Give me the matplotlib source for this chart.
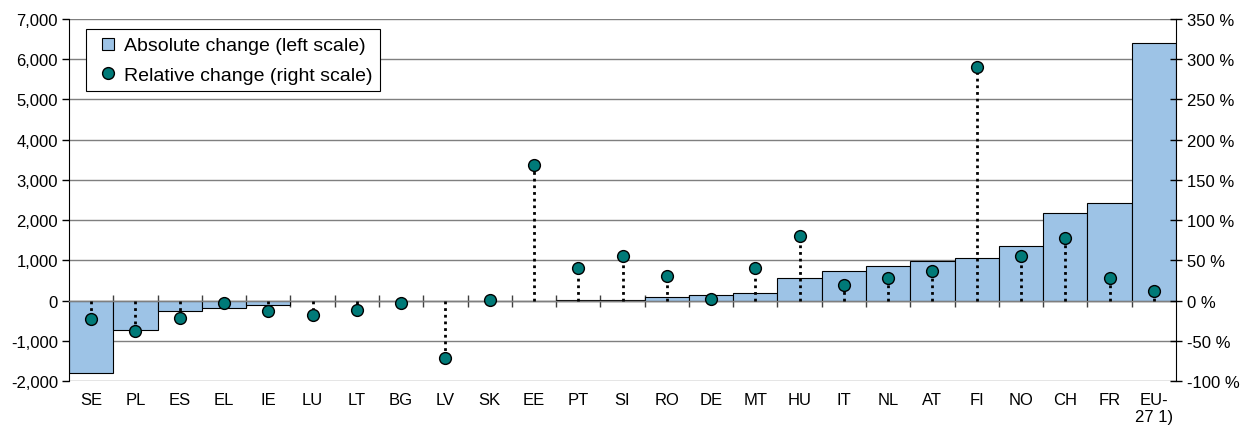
import matplotlib
matplotlib.use("Agg")
import matplotlib.pyplot as plt
from matplotlib.lines import Line2D
from matplotlib.ticker import FuncFormatter, FixedLocator
import numpy as np

plt.rcParams['font.family'] = ['Liberation Sans', 'DejaVu Sans']

categories = ["SE", "PL", "ES", "EL", "IE", "LU", "LT", "BG", "LV", "SK", "EE", "PT", "SI",
              "RO", "DE", "MT", "HU", "IT", "NL", "AT", "FI", "NO", "CH", "FR", "EU-\n27 1)"]
absolute_change = [-1800, -740, -270, -190, -120, 0, 0, 0, 0, 0, 0, 20, 20,
                   80, 145, 180, 550, 730, 850, 990, 1065, 1355, 2170, 2430, 6410]
relative_change = [-23, -38, -22, -3, -13, -18, -12, -3, -71, 1, 168, 40, 56,
                   30, 2, 41, 80, 19, 28, 37, 290, 56, 78, 28, 12]
left_ticks = list(range(-2000, 7001, 1000))
right_ticks = list(range(-100, 351, 50))

bar_color = '#9dc3e6'
dot_color = '#007a78'
grid_color = '#7f7f7f'
fs = 12

fig = plt.figure(figsize=(12.46, 4.35), dpi=100)
ax = fig.add_axes([69/1246, 1-382/435, (1176-69)/1246, (382-20)/435])
x = np.arange(len(categories))

ax.bar(x, absolute_change, width=1.0, color=bar_color, edgecolor='black', linewidth=0.8, zorder=2)
ax.set_xlim(-0.5, len(categories) - 0.5)
ax.set_ylim(-2000, 7000)
ax.yaxis.set_major_locator(FixedLocator(left_ticks))
ax.yaxis.set_major_formatter(FuncFormatter(lambda v, p: f"{int(v):,}"))
ax.yaxis.grid(True, color=grid_color, linewidth=1.0, zorder=0)
ax.set_axisbelow(True)
ax.tick_params(axis='y', direction='out', length=5, width=1, color='black', labelsize=fs, pad=3)

# x axis at zero
ax.spines['bottom'].set_position(('data', 0))
ax.spines['bottom'].set_color(grid_color)
ax.spines['bottom'].set_linewidth(1.0)
ax.spines['top'].set_visible(False)
ax.spines['right'].set_visible(False)
ax.spines['left'].set_color('black')
ax.xaxis.set_major_locator(FixedLocator(np.arange(0.5, len(categories) - 1, 1.0)))
ax.tick_params(axis='x', direction='inout', length=9, width=1, color='#404040', labelbottom=False)

for i, lab in enumerate(categories):
    ax.text(i, -0.03, lab, transform=ax.get_xaxis_transform(), ha='center', va='top',
            fontsize=fs, multialignment='center', linespacing=1.2)

ax2 = ax.twinx()
ax2.set_ylim(-100, 350)
ax2.yaxis.set_major_locator(FixedLocator(right_ticks))
ax2.yaxis.set_major_formatter(FuncFormatter(lambda v, p: f"{int(v)} %"))
ax2.tick_params(axis='y', direction='inout', length=8, width=1, color='black', labelsize=fs, pad=4)
for s in ['top', 'left', 'bottom']:
    ax2.spines[s].set_visible(False)
ax2.spines['right'].set_color('black')

ax2.vlines(x, 0, relative_change, colors='black', linestyles=(0, (1, 1.4)), linewidth=2.0, zorder=3)
ax2.plot(x, relative_change, linestyle='none', marker='o', markersize=8.5,
         markerfacecolor=dot_color, markeredgecolor='black', markeredgewidth=1.0, zorder=4)

handles = [
    Line2D([], [], linestyle='none', marker='s', markersize=8, markerfacecolor=bar_color,
           markeredgecolor='black', markeredgewidth=0.8),
    Line2D([], [], linestyle='none', marker='o', markersize=8.5, markerfacecolor=dot_color,
           markeredgecolor='black', markeredgewidth=1.0),
]
leg = ax2.legend(handles, ["Absolute change (left scale)", "Relative change (right scale)"],
                 loc='upper left', bbox_to_anchor=(17/1107, 1 - 10/362), borderaxespad=0,
                 fontsize=14, frameon=True, fancybox=False, handlelength=1.45,
                 handletextpad=0.08, borderpad=0.4, labelspacing=0.6)
leg.get_frame().set_edgecolor('black')
leg.get_frame().set_linewidth(0.8)
leg.get_frame().set_alpha(1)

fig.savefig('out.png', dpi=100)
